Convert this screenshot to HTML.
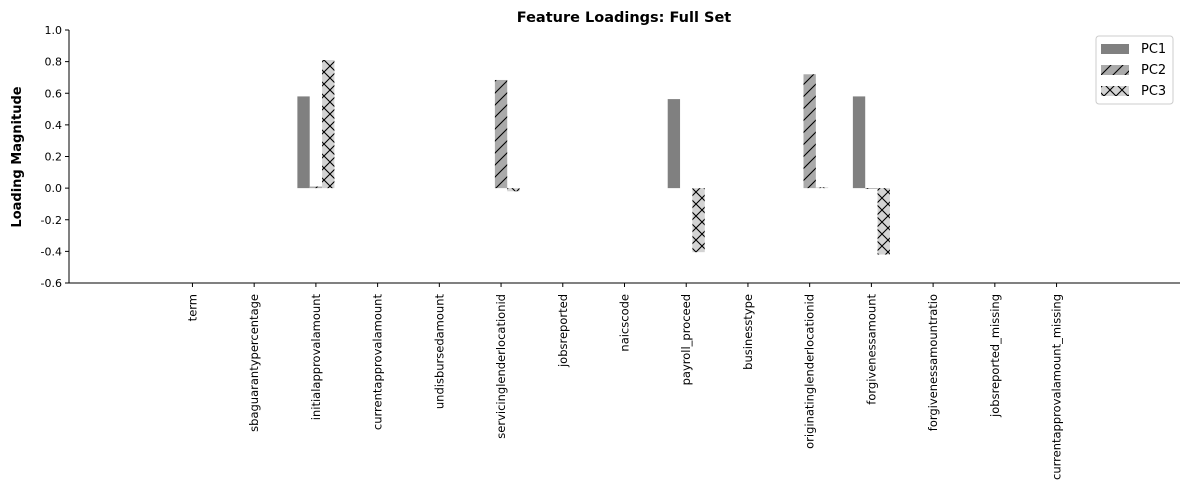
<!DOCTYPE html>
<html><head><meta charset="utf-8"><style>
body{margin:0;background:#fff;font-family:"Liberation Sans","DejaVu Sans",sans-serif}
</style></head><body>
<svg id="chart" width="1189" height="490" xmlns="http://www.w3.org/2000/svg" font-family="DejaVu Sans, Liberation Sans, sans-serif">
<defs>
<pattern id="hatch2" patternUnits="userSpaceOnUse" width="12" height="12"><rect width="12" height="12" fill="#aaaaaa"/><path d="M0,12 L12,0 M-3,3 L3,-3 M9,15 L15,9" stroke="#000" stroke-width="1.1"/></pattern>
<pattern id="hatch3" patternUnits="userSpaceOnUse" width="12" height="12"><rect width="12" height="12" fill="#d3d3d3"/><path d="M0,0 L12,12 M0,12 L12,0" stroke="#000" stroke-width="1.1"/></pattern>
</defs>
<text x="624" y="22" text-anchor="middle" font-size="14.5" font-weight="bold">Feature Loadings: Full Set</text>
<text transform="translate(21,157) rotate(-90)" text-anchor="middle" font-size="13" font-weight="bold">Loading Magnitude</text>
<g id="bars"></g>
<g id="axes"></g>
<g>
<rect x="1096" y="36" width="77" height="68" rx="3" fill="#fff" stroke="#ccc"/>
<rect x="1101" y="44" width="28" height="10" fill="#808080"/>
<text x="1141" y="53" font-size="13">PC1</text>
<rect x="1101" y="65" width="28" height="10" fill="url(#hatch2)"/>
<text x="1141" y="74" font-size="13">PC2</text>
<rect x="1101" y="86" width="28" height="10" fill="url(#hatch3)"/>
<text x="1141" y="95" font-size="13">PC3</text>
</g>
</svg>
<script>
const categories=["term","sbaguarantypercentage","initialapprovalamount","currentapprovalamount","undisbursedamount","servicinglenderlocationid","jobsreported","naicscode","payroll_proceed","businesstype","originatinglenderlocationid","forgivenessamount","forgivenessamountratio","jobsreported_missing","currentapprovalamount_missing"];
const pc1=[0,0,0.58,0,0,0,0,0,0.563,0,0,0.58,0,0,0];
const pc2=[0,0,0.01,0,0,0.684,0,0,0,0,0.72,-0.005,0,0,0];
const pc3=[0,0,0.81,0,0,-0.02,0,0,-0.405,0,0.005,-0.42,0,0,0];
const yTicks=["1.0","0.8","0.6","0.4","0.2","0.0","-0.2","-0.4","-0.6"];
const L=69,R=1180,T=30,B=283,xmin=-2,xmax=16,ymin=-0.6,ymax=1.0;
const xs=v=>L+(v-xmin)/(xmax-xmin)*(R-L);
const ys=v=>T+(ymax-v)/(ymax-ymin)*(B-T);
const NS="http://www.w3.org/2000/svg";
const bars=document.getElementById('bars'),axes=document.getElementById('axes');
function mk(tag,attrs,parent){const e=document.createElementNS(NS,tag);for(const k in attrs)e.setAttribute(k,attrs[k]);parent.appendChild(e);return e;}
const series=[[pc1,"#808080",-0.2,"pc1"],[pc2,"url(#hatch2)",0,"pc2"],[pc3,"url(#hatch3)",0.2,"pc3"]];
series.forEach(([vals,fill,off,nm])=>{
 vals.forEach((v,i)=>{
  if(v===0)return;
  const x0=xs(i+off-0.1),x1=xs(i+off+0.1),y0=ys(Math.max(v,0)),y1=ys(Math.min(v,0));
  const r=mk('rect',{x:x0,y:y0,width:x1-x0,height:Math.max(y1-y0,0.6),fill:fill},bars);
  
  
 });
});
mk('line',{x1:L,y1:T,x2:L,y2:B,stroke:"#000","stroke-width":1},axes);
mk('line',{x1:L,y1:B,x2:R,y2:B,stroke:"#000","stroke-width":1},axes);
yTicks.forEach(t=>{
 const y=ys(parseFloat(t));
 mk('line',{x1:L-4,y1:y,x2:L,y2:y,stroke:"#000"},axes);
 const e=mk('text',{x:L-7,y:y+4,"text-anchor":"end","font-size":11},axes);e.textContent=t;
 
 
});
categories.forEach((c,i)=>{
 const x=xs(i);
 mk('line',{x1:x,y1:B,x2:x,y2:B+4,stroke:"#000"},axes);
 const e=mk('text',{transform:`translate(${x+4},${B+11}) rotate(-90)`,"text-anchor":"end","font-size":11.5},axes);e.textContent=c;
 
 
});
</script>
</body></html>
